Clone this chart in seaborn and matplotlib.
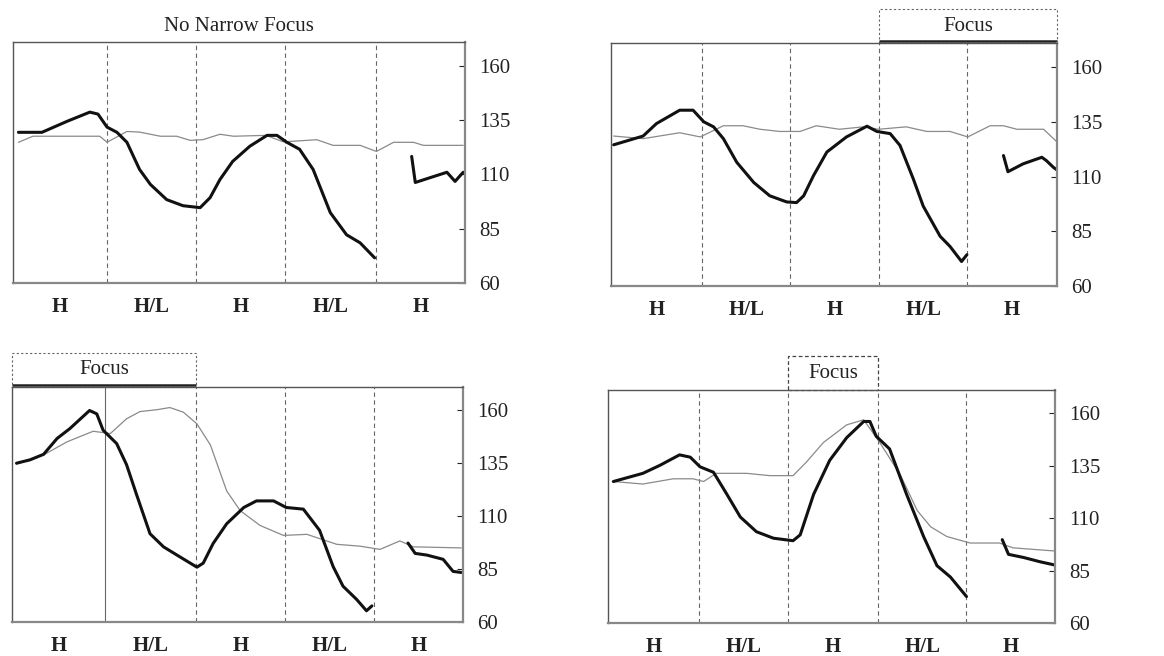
import numpy as np
import pandas as pd
import matplotlib
matplotlib.use("Agg")
import matplotlib.pyplot as plt
import matplotlib.transforms as mtransforms
from matplotlib.patches import Rectangle
import seaborn as sns

# ---------------- data (x in segment units, y in Hz) ----------------
segment_labels = ["H", "H/L", "H", "H/L", "H"]
y_ticks = [60, 85, 110, 135, 160]
titles = ["No Narrow Focus", "", "", ""]

# segment boundaries per panel (x units)
p1_bounds = [1.04, 2.02, 3.01, 4.02]
p2_bounds = [1.02, 2.01, 3.01, 3.99]
p3_bounds = [1.03, 2.04, 3.03, 4.01]
p4_bounds = [1.02, 2.01, 3.02, 4.01]

# Panel 1 - No narrow focus
p1_black_x_a = [0.06, 0.32, 0.60, 0.85, 0.94, 1.04, 1.15, 1.26, 1.40, 1.52, 1.70, 1.88, 2.07, 2.18, 2.29, 2.43,
                2.62, 2.81, 2.92, 3.03, 3.17, 3.32, 3.51, 3.69, 3.84, 4.00]
p1_black_y_a = [129.4, 129.4, 134.5, 138.7, 137.8, 131.8, 129.4, 124.8, 112.3, 105.4, 98.4, 95.6, 94.7, 99.3, 107.7, 116.0,
                123.0, 128.0, 128.0, 124.8, 121.6, 112.3, 92.4, 82.2, 78.5, 71.6]
p1_black_x_b = [4.41, 4.45, 4.65, 4.80, 4.89, 4.98]
p1_black_y_b = [118.3, 106.3, 109.0, 111.0, 106.8, 111.0]
p1_gray_x = [0.06, 0.22, 0.96, 1.04, 1.26, 1.40, 1.63, 1.81, 1.96, 2.10, 2.29, 2.44, 2.80, 2.99, 3.36, 3.54,
             3.84, 4.02, 4.21, 4.43, 4.54, 4.98]
p1_gray_y = [124.8, 127.6, 127.6, 124.8, 129.8, 129.5, 127.6, 127.6, 125.7, 126.0, 128.5, 127.6, 128.0, 125.0, 126.0, 123.4,
             123.4, 120.6, 124.8, 124.8, 123.4, 123.4]

# Panel 2 - Focus on segments 4-5
p2_black_x_a = [0.03, 0.36, 0.51, 0.77, 0.92, 1.04, 1.15, 1.26, 1.41, 1.60, 1.78, 1.97, 2.08, 2.16, 2.27, 2.42,
                2.64, 2.87, 2.98, 3.13, 3.24, 3.39, 3.50, 3.69, 3.80, 3.93, 3.99]
p2_black_y_a = [124.5, 128.5, 134.2, 140.3, 140.3, 135.0, 132.7, 127.3, 116.5, 107.3, 101.2, 98.4, 98.1, 101.2, 110.4, 121.2,
                128.1, 133.0, 130.6, 129.6, 124.2, 108.8, 96.5, 82.7, 78.1, 71.2, 74.3]
p2_black_x_b = [4.40, 4.45, 4.62, 4.83, 4.88, 4.96, 5.00]
p2_black_y_b = [119.6, 112.2, 115.8, 118.8, 117.3, 114.2, 113.0]
p2_gray_x = [0.03, 0.36, 0.77, 1.00, 1.26, 1.48, 1.67, 1.89, 2.12, 2.30, 2.56, 2.83, 3.00, 3.31, 3.54, 3.80,
             4.00, 4.25, 4.40, 4.55, 4.85, 5.00]
p2_gray_y = [128.5, 127.3, 130.0, 128.1, 133.2, 133.2, 131.6, 130.6, 130.6, 133.2, 131.6, 132.7, 131.6, 132.7, 130.6, 130.6,
             128.1, 133.2, 133.2, 131.6, 131.6, 125.8]

# Panel 3 - Focus on segments 1-2
p3_black_x_a = [0.05, 0.20, 0.35, 0.50, 0.64, 0.86, 0.94, 1.01, 1.16, 1.27, 1.38, 1.53, 1.68, 1.86, 2.05, 2.12,
                2.23, 2.38, 2.57, 2.71, 2.90, 3.04, 3.23, 3.41, 3.56, 3.67, 3.82, 3.93, 3.99]
p3_black_y_a = [135.0, 136.6, 139.2, 146.7, 151.3, 159.9, 158.3, 150.6, 144.3, 134.3, 120.3, 101.7, 95.5, 90.8, 85.9, 87.8,
                97.1, 106.4, 114.1, 117.2, 117.2, 114.1, 113.3, 103.3, 86.2, 76.9, 70.7, 65.3, 67.6]
p3_black_x_b = [4.39, 4.47, 4.60, 4.78, 4.89, 4.98]
p3_black_y_b = [97.3, 92.4, 91.6, 89.6, 83.9, 83.4]
p3_gray_x = [0.05, 0.35, 0.61, 0.90, 1.09, 1.27, 1.42, 1.61, 1.75, 1.90, 2.05, 2.20, 2.38, 2.53, 2.75, 3.01,
             3.27, 3.60, 3.86, 4.08, 4.30, 4.45, 4.98]
p3_gray_y = [134.6, 138.9, 145.1, 150.1, 149.0, 156.0, 159.4, 160.3, 161.3, 159.1, 153.6, 143.6, 121.9, 112.6, 105.6, 100.9,
             101.4, 96.7, 95.8, 94.3, 98.3, 95.5, 95.0]

# Panel 4 - Focus on segment 3
p4_black_x_a = [0.06, 0.39, 0.58, 0.80, 0.92, 1.03, 1.18, 1.33, 1.48, 1.66, 1.85, 2.07, 2.15, 2.30, 2.48, 2.67,
                2.86, 2.93, 3.00, 3.15, 3.34, 3.53, 3.68, 3.83, 4.01]
p4_black_y_a = [127.4, 131.3, 135.1, 140.1, 139.0, 134.4, 131.8, 121.3, 110.5, 103.5, 100.4, 99.2, 102.0, 121.3, 137.5, 148.3,
                156.0, 156.0, 149.0, 142.9, 121.3, 101.2, 87.3, 81.9, 72.6]
p4_black_x_b = [4.41, 4.48, 4.65, 4.83, 5.00]
p4_black_y_b = [99.7, 92.7, 91.2, 89.2, 87.6]
p4_gray_x = [0.06, 0.39, 0.73, 0.95, 1.07, 1.21, 1.55, 1.81, 2.07, 2.22, 2.41, 2.67, 2.86, 3.04, 3.27, 3.46,
             3.61, 3.79, 4.05, 4.38, 4.53, 5.00]
p4_gray_y = [127.4, 126.2, 128.7, 128.7, 127.4, 131.3, 131.3, 130.2, 130.2, 136.7, 146.0, 154.4, 156.8, 146.0, 130.5, 113.5,
             105.8, 101.2, 98.1, 98.1, 95.8, 94.3]

# focus region (first segment index, last segment index + 1, style) per panel
focus_spans = [None, (3, 5, "open"), (0, 2, "open"), (2, 3, "dashed")]

panels = [
    ([(p1_black_x_a, p1_black_y_a), (p1_black_x_b, p1_black_y_b)], (p1_gray_x, p1_gray_y), p1_bounds),
    ([(p2_black_x_a, p2_black_y_a), (p2_black_x_b, p2_black_y_b)], (p2_gray_x, p2_gray_y), p2_bounds),
    ([(p3_black_x_a, p3_black_y_a), (p3_black_x_b, p3_black_y_b)], (p3_gray_x, p3_gray_y), p3_bounds),
    ([(p4_black_x_a, p4_black_y_a), (p4_black_x_b, p4_black_y_b)], (p4_gray_x, p4_gray_y), p4_bounds),
]

# ---------------- figure ----------------
sns.set_theme(style="white")
plt.rcParams["font.family"] = ["Liberation Serif", "DejaVu Serif"]

W, H = 1164, 656
fig = plt.figure(figsize=(W / 100, H / 100), dpi=100)
FS = 15

# axes boxes in pixels: left, top, right, bottom
boxes_px = [(13, 42, 465, 283), (611, 43, 1057, 286), (12, 387, 463, 622), (608, 390, 1055, 623)]

for i, ((black_parts, gray, bounds), box) in enumerate(zip(panels, boxes_px)):
    l, t, r, b = box
    ax = fig.add_axes([l / W, 1 - b / H, (r - l) / W, (b - t) / H])

    sns.lineplot(x=gray[0], y=gray[1], ax=ax, color="#8a8a8a", linewidth=0.9,
                 estimator=None, sort=False)
    for bx, by in black_parts:
        sns.lineplot(x=bx, y=by, ax=ax, color="#111111", linewidth=2.2,
                     estimator=None, sort=False)

    ax.set_xlim(0, 5)
    ax.set_ylim(60, 171)

    edges = [0.0] + list(bounds) + [5.0]

    # segment boundaries
    for k, xb in enumerate(bounds):
        solid = (i == 2 and k == 0)
        ax.axvline(xb, color="#666666", linewidth=0.8,
                   linestyle="-" if solid else (0, (4, 3)), zorder=0)

    # axes styling
    for sp in ax.spines.values():
        sp.set_visible(True)
        sp.set_color("#555555")
        sp.set_linewidth(1.0)
    ax.spines["right"].set_linewidth(1.6)
    ax.spines["right"].set_color("#888888")
    ax.spines["bottom"].set_linewidth(1.6)
    ax.spines["bottom"].set_color("#888888")

    ax.yaxis.tick_right()
    ax.set_yticks(y_ticks)
    ax.set_yticklabels([str(v) for v in y_ticks], fontsize=FS)
    ax.tick_params(axis="y", direction="in", length=4, width=0.8, pad=10, colors="#222222")

    centers = [(edges[k] + edges[k + 1]) / 2 for k in range(5)]
    ax.set_xticks(centers)
    ax.set_xticklabels(segment_labels, fontsize=FS, fontweight="bold")
    ax.tick_params(axis="x", length=0, pad=10, colors="#222222")
    ax.set_xlabel("")
    ax.set_ylabel("")

    if titles[i]:
        ax.set_title(titles[i], fontsize=FS, pad=8, color="#222222")

    span = focus_spans[i]
    if span is not None:
        s0, s1, style = span
        x0, x1 = edges[s0], edges[s1]
        trans = mtransforms.blended_transform_factory(ax.transData, ax.transAxes)
        hgt = 34 / (b - t)
        if style == "dashed":
            rect = Rectangle((x0, 1.0), x1 - x0, hgt, transform=trans, fill=False,
                             edgecolor="#444444", linewidth=0.9, linestyle=(0, (3, 2)),
                             clip_on=False)
            ax.add_patch(rect)
        else:
            rect = Rectangle((x0, 1.0), x1 - x0, hgt, transform=trans, fill=False,
                             edgecolor="#666666", linewidth=0.8, linestyle=(0, (2, 2)),
                             clip_on=False)
            ax.add_patch(rect)
            ax.plot([x0, x1], [1.0 + 2 / (b - t)] * 2, transform=trans, color="#222222",
                    linewidth=1.8, clip_on=False, solid_capstyle="butt")
        ax.text((x0 + x1) / 2, 1.0 + hgt / 2, "Focus", transform=trans, ha="center",
                va="center", fontsize=FS, color="#222222")

fig.savefig("out.png", dpi=100)
